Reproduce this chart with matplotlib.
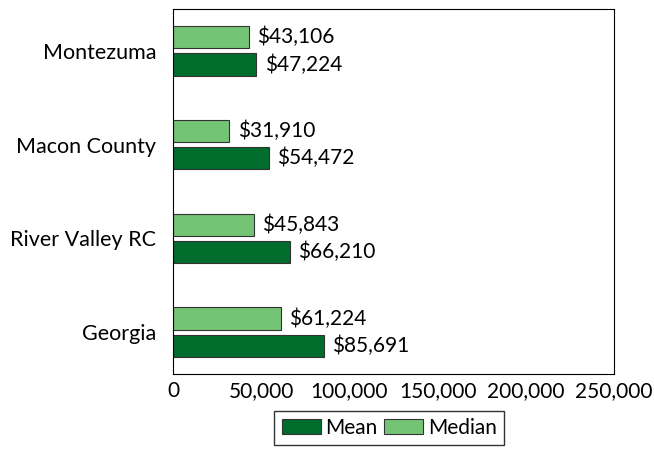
import matplotlib
matplotlib.use("Agg")
import matplotlib.pyplot as plt
from matplotlib.ticker import FuncFormatter

categories = ["Georgia", "River Valley RC", "Macon County", "Montezuma"]
mean_income = [85691, 66210, 54472, 47224]
median_income = [61224, 45843, 31910, 43106]

plt.rcParams['font.family'] = ['Lato', 'DejaVu Sans']
plt.rcParams['font.size'] = 15

fig = plt.figure(figsize=(6.54, 4.49), dpi=100)
ax = fig.add_axes([0.2645, 0.167, 0.6743, 0.813])

pos = list(range(len(categories)))
h = 0.237
off = 0.145
dark = '#006d2c'
light = '#74c476'

b1 = ax.barh([p - off for p in pos], mean_income, height=h, color=dark,
             edgecolor='#333333', linewidth=0.8, label='Mean')
b2 = ax.barh([p + off for p in pos], median_income, height=h, color=light,
             edgecolor='#333333', linewidth=0.8, label='Median')

for bars, vals in [(b1, mean_income), (b2, median_income)]:
    ax.bar_label(bars, labels=['${:,}'.format(v) for v in vals], padding=6, fontsize=15)

ax.set_xlim(0, 250000)
ax.set_ylim(-0.446, 3.446)
ax.set_yticks(pos)
ax.set_yticklabels(categories)
ax.set_xticks([0, 50000, 100000, 150000, 200000, 250000])
ax.xaxis.set_major_formatter(FuncFormatter(lambda v, p: '{:,.0f}'.format(v)))
ax.tick_params(length=0, labelsize=15)
ax.tick_params(axis='y', pad=12, labelsize=15.5)
ax.tick_params(axis='x', pad=5)
for s in ax.spines.values():
    s.set_linewidth(0.8)

ax.legend(loc='upper center', bbox_to_anchor=(0.49, -0.1), borderaxespad=0, ncol=2,
          frameon=True, fancybox=False, edgecolor='black', handlelength=1.9,
          handleheight=0.7, handletextpad=0.2, columnspacing=0.3, borderpad=0.35,
          fontsize=15)

fig.savefig('out.png', dpi=100)
